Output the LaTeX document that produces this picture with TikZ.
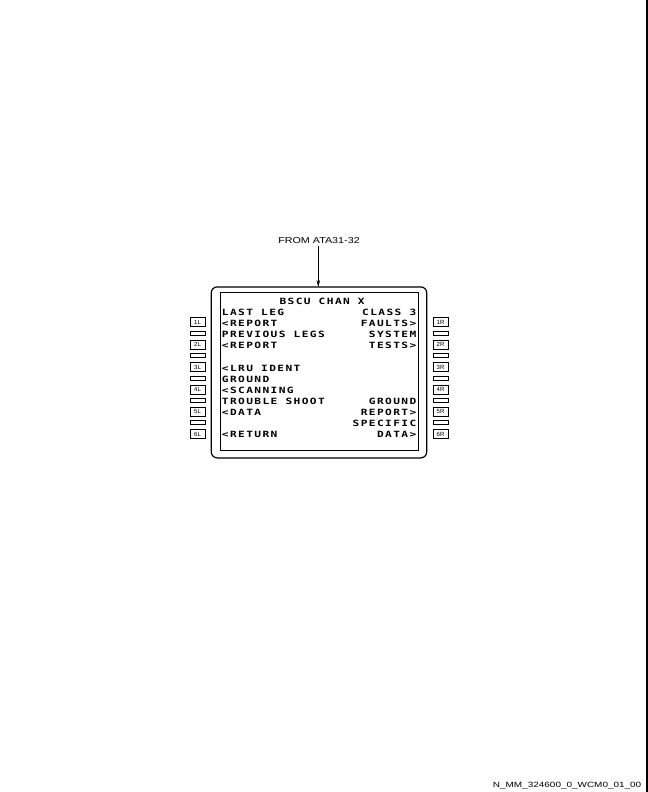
\documentclass[tikz,border=0pt]{standalone}
\usepackage{fontspec}
\setmainfont{Liberation Sans}
\newfontfamily\scrfont[LetterSpace=12.5]{DejaVu Sans Mono Bold}
\newfontfamily\lblfont{Liberation Sans}
\usetikzlibrary{arrows.meta}
\newcommand{\scr}[1]{\scalebox{1.3}[1]{#1}}
\tikzset{
  x=1bp, y=-1bp,
  scrL/.style={anchor=base west, inner sep=0pt, font=\fontsize{8.6bp}{9bp}\scrfont},
  scrR/.style={anchor=base east, inner sep=0pt, font=\fontsize{8.6bp}{9bp}\scrfont},
  keybox/.style={draw, line width=0.7bp, minimum width=15bp, minimum height=9bp, inner sep=0pt, font=\fontsize{6bp}{6bp}\lblfont},
  sepbox/.style={draw, line width=0.7bp, minimum width=15bp, minimum height=4bp, inner sep=0pt},
  caption/.style={inner sep=0pt, font=\fontsize{8.6bp}{9bp}\selectfont}
}
\begin{document}
\begin{tikzpicture}
\useasboundingbox (0,0) rectangle (648,792);
% right edge line
\draw[line width=1.5bp] (646.8,0) -- (646.8,792);
% frame
\node[draw, line width=1.2bp, rounded corners=6bp, minimum width=215.5bp, minimum height=171bp, inner sep=0pt] (frame) at (319,372.4) {};
\node[draw, line width=0.9bp, minimum width=197.6bp, minimum height=157.3bp, inner sep=0pt] (screen) at (319.5,371.4) {};
% source label and arrow
\node[caption] (src) at (319,240.5) {\scalebox{1.25}[1]{FROM ATA31-32}};
\coordinate (tgt) at (318.3,287);
\draw[line width=0.7bp, -{Stealth[length=7bp,width=3.5bp]}] (318.3,245.7) -- (tgt);
% screen text
\node[scrL] (t0) at (279.3,304) {\scr{BSCU CHAN X}};
\node[scrL] (l1) at (221.7,315) {\scr{LAST LEG}};
\node[scrL] (l2) at (221.7,326) {\scr{<REPORT}};
\node[scrL] (l3) at (221.7,337) {\scr{PREVIOUS LEGS}};
\node[scrL] (l4) at (221.7,348) {\scr{<REPORT}};
\node[scrL] (l6) at (221.7,371) {\scr{<LRU IDENT}};
\node[scrL] (l7) at (221.7,382) {\scr{GROUND}};
\node[scrL] (l8) at (221.7,393) {\scr{<SCANNING}};
\node[scrL] (l9) at (221.7,404) {\scr{TROUBLE SHOOT}};
\node[scrL] (l10) at (221.7,415) {\scr{<DATA}};
\node[scrL] (l12) at (221.7,437) {\scr{<RETURN}};
\node[scrR] (r1) at (416.5,315) {\scr{CLASS 3}};
\node[scrR] (r2) at (416.5,326) {\scr{FAULTS>}};
\node[scrR] (r3) at (416.5,337) {\scr{SYSTEM}};
\node[scrR] (r4) at (416.5,348) {\scr{TESTS>}};
\node[scrR] (r9) at (416.5,404) {\scr{GROUND}};
\node[scrR] (r10) at (416.5,415) {\scr{REPORT>}};
\node[scrR] (r11) at (416.5,426) {\scr{SPECIFIC}};
\node[scrR] (r12) at (416.5,437) {\scr{DATA>}};
% line select keys
\foreach \n/\yy in {1/322.2,2/344.6,3/367.0,4/389.4,5/411.8,6/434.2}{
  \node[keybox] (b\n L) at (197.5,\yy) {\n L};
  \node[keybox] (b\n R) at (440.5,\yy) {\n R};
}
\foreach \n/\yy in {1/333.2,2/355.6,3/378.0,4/400.4,5/422.8}{
  \node[sepbox] (s\n L) at (197.5,\yy) {};
  \node[sepbox] (s\n R) at (440.5,\yy) {};
}
% footer
\node[anchor=base east, inner sep=0pt, font=\fontsize{7.6bp}{8bp}\selectfont] (foot) at (641.5,787) {\scalebox{1.31}[1]{N\_MM\_324600\_0\_WCM0\_01\_00}};
\end{tikzpicture}
\end{document}
